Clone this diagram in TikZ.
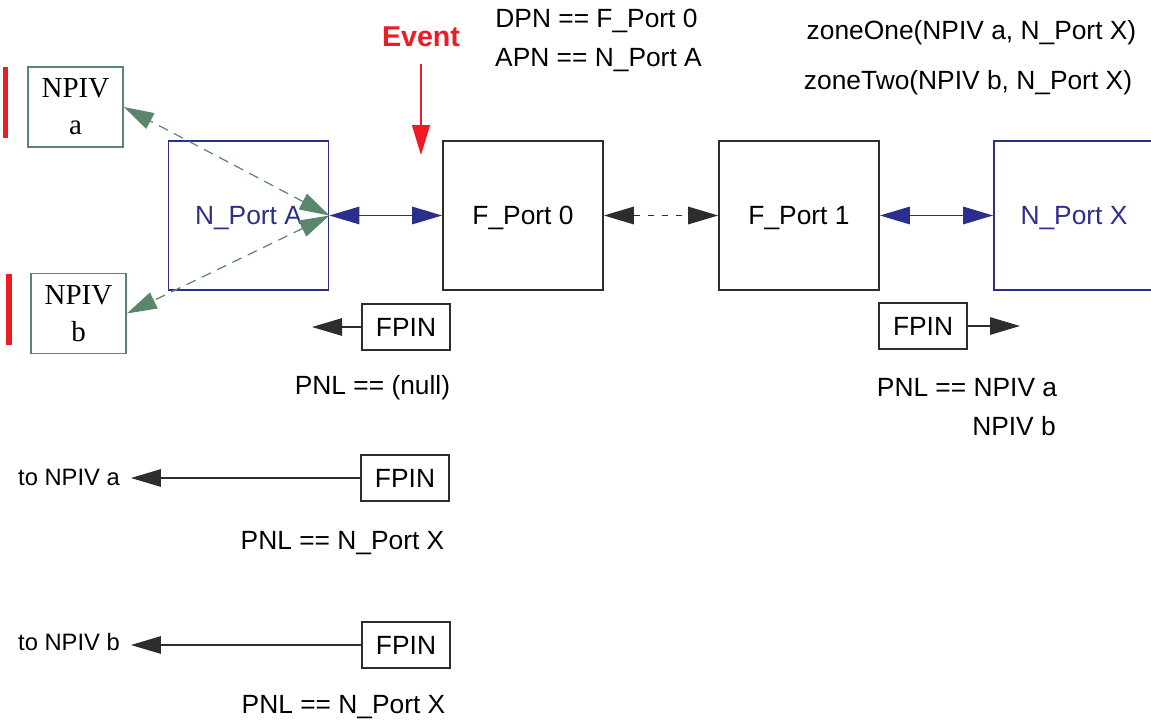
\documentclass[tikz,border=0pt]{standalone}
\usepackage{fontspec}
\setmainfont{Liberation Sans}
\newfontfamily\npivserif{Liberation Serif}
\usepackage{tikz}
\usetikzlibrary{arrows.meta, positioning}

\definecolor{portblue}{RGB}{44,46,142}
\definecolor{npivgreen}{RGB}{90,134,110}
\definecolor{eventred}{RGB}{237,28,36}
\definecolor{linegray}{RGB}{45,45,45}

\begin{document}
\begin{tikzpicture}[
    x=0.02cm, y=-0.02cm,
    font=\fontsize{15}{18}\selectfont,
    port/.style={draw=linegray, line width=1pt, minimum width=3.2cm, minimum height=2.98cm, inner sep=0pt, text depth=0pt},
    nport/.style={port, draw=portblue, text=portblue},
    npiv/.style={draw=npivgreen, line width=1pt, minimum width=1.9cm, minimum height=1.6cm, align=center, inner sep=0pt,
                 font=\npivserif\fontsize{16.5}{21}\selectfont},
    fpin/.style={draw=linegray, line width=0.9pt, minimum width=1.76cm, minimum height=0.92cm, inner sep=0pt},
    lbl/.style={anchor=base},
    arr/.style={-{Triangle[length=0.6cm, width=0.35cm]}, line width=0.7pt, linegray},
    dblarr/.style={{Triangle[length=0.6cm, width=0.35cm]}-{Triangle[length=0.6cm, width=0.35cm]}, line width=0.8pt},
]
\clip (0,0) rectangle (1151,723);

% ports
\node[nport] (nportA) at (248.5,215.5) {N\_Port A};
\node[port] (fportZero) at (523,215.5) {F\_Port 0};
\node[port] (fportOne) at (799,215.5) {F\_Port 1};
\node[nport] (nportX) at (1074,215.5) {N\_Port X};

% virtual ports
\node[npiv] (npivA) at (75.5,107) {NPIV\\a};
\node[npiv] (npivB) at (78.5,313.5) {NPIV\\b};
\fill[eventred] (3,67) rectangle (8,138);
\fill[eventred] (6,274) rectangle (12,345);

% links
\draw[dblarr, portblue] (nportA.east) -- (fportZero.west);
\draw[dblarr, portblue] (fportOne.east) -- (nportX.west);
\draw[dblarr, linegray, dash pattern=on 0.12cm off 0.16cm] (fportZero.east) -- (fportOne.west);
\draw[dblarr, npivgreen, line width=0.7pt, dash pattern=on 0.2cm off 0.14cm] (nportA.east) -- (npivA.east);
\draw[dblarr, npivgreen, line width=0.7pt, dash pattern=on 0.2cm off 0.14cm] (nportA.east) -- (npivB.east);

% event
\node[lbl, text=eventred, font=\bfseries\fontsize{16.3}{19}\selectfont] (event) at (421,47) {Event};
\coordinate (eventTip) at (421,155);
\draw[-{Triangle[length=0.6cm, width=0.36cm]}, eventred, line width=0.8pt, shorten <=0.22cm] (event) -- (eventTip);

% port names
\node[lbl] (dpn) at (596.5,28) {DPN == F\_Port 0};
\node[lbl] (apn) at (598.5,67) {APN == N\_Port A};
\node[lbl] (zoneOne) at (971.5,40) {zoneOne(NPIV a, N\_Port X)};
\node[lbl] (zoneTwo) at (968,90) {zoneTwo(NPIV b, N\_Port X)};

% FPIN from the fabric
\node[fpin] (fpinA) at (406,327) {FPIN};
\coordinate (fpinAOut) at (312,327);
\draw[arr] (fpinA) -- (fpinAOut);
\node[lbl] (pnlNull) at (372.5,394) {PNL == (null)};

\node[fpin] (fpinX) at (923,326) {FPIN};
\coordinate (fpinXOut) at (1020,326);
\draw[arr] (fpinX) -- (fpinXOut);
\node[lbl] (pnlNpivA) at (967,396) {PNL == NPIV a};
\node[lbl] (pnlNpivB) at (1014,435) {NPIV b};

% FPIN to each NPIV
\node[fpin] (fpinToA) at (405,478) {FPIN};
\node[lbl, font=\fontsize{13.5}{16}\selectfont] (toNpivA) at (69,485) {to NPIV a};
\draw[arr, shorten >=0.1cm] (fpinToA) -- (toNpivA.east |- fpinToA);
\node[lbl] (pnlToA) at (342.5,549) {PNL == N\_Port X};

\node[fpin] (fpinToB) at (406,645) {FPIN};
\node[lbl, font=\fontsize{13.5}{16}\selectfont] (toNpivB) at (69,650) {to NPIV b};
\draw[arr, shorten >=0.1cm] (fpinToB) -- (toNpivB.east |- fpinToB);
\node[lbl] (pnlToB) at (343.5,713) {PNL == N\_Port X};

\end{tikzpicture}
\end{document}
